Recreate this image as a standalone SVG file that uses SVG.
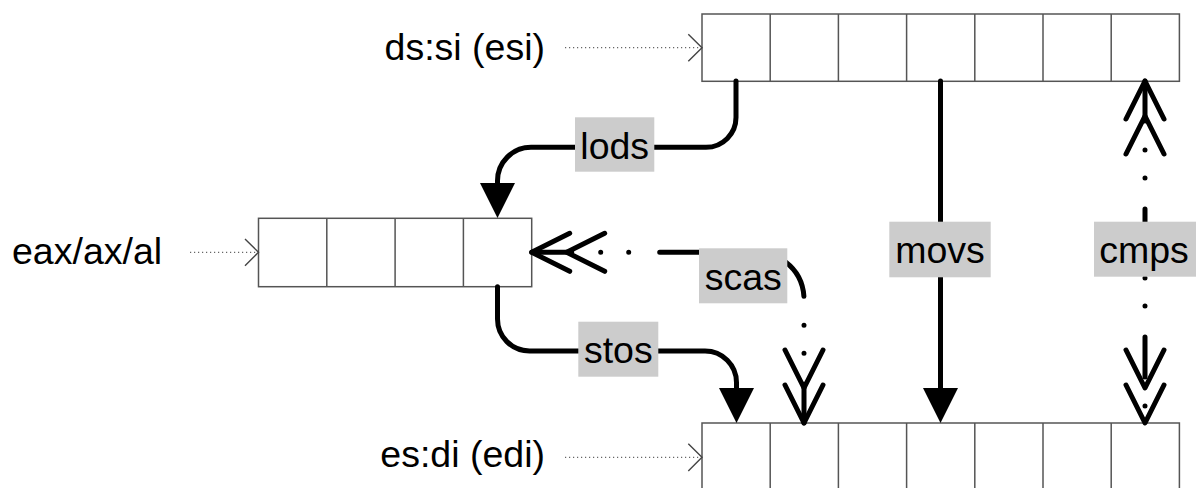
<svg xmlns="http://www.w3.org/2000/svg" width="1196" height="488" viewBox="0 0 1196 488">
  <style>
    .cell { fill: #ffffff; stroke: #555555; stroke-width: 1.5; }
    .div { fill: none; stroke: #555555; stroke-width: 1.5; }
    .reg { font-family: "Liberation Sans", Arial, sans-serif; font-size: 37.5px; fill: #000000; }
    .lbl { font-family: "Liberation Sans", Arial, sans-serif; font-size: 37.5px; fill: #000000; text-anchor: middle; }
    .tag { fill: #cccccc; }
    .ptr { fill: none; stroke: #666666; stroke-width: 1.2; stroke-dasharray: 1.2 2.8; }
    .ptrhead { fill: none; stroke: #444444; stroke-width: 1.4; stroke-linejoin: miter; }
    .flow { fill: none; stroke: #000000; stroke-width: 5; stroke-linecap: round; stroke-linejoin: round; }
    .cmp { fill: none; stroke: #000000; stroke-width: 5; stroke-linecap: round; stroke-linejoin: round; stroke-dasharray: 40 29 0 28 0 31; }
  </style>
  <defs>
    <!-- solid triangular head, placed at the end of the path (its base) -->
    <marker id="solid" markerUnits="userSpaceOnUse" orient="auto" refX="0" refY="0" markerWidth="40" markerHeight="40" viewBox="-2 -20 40 40" overflow="visible">
      <path d="M0,-17.5 L35,0 L0,17.5 Z" fill="#000000" stroke="none"/>
    </marker>
    <!-- double open chevron, tip at the path end -->
    <marker id="dbl" markerUnits="userSpaceOnUse" orient="auto-start-reverse" refX="0" refY="0" markerWidth="80" markerHeight="44" viewBox="-78 -22 80 44" overflow="visible">
      <path d="M-38,-19 L0,0 L-38,19 M-73,-19 L-35,0 L-73,19" fill="none" stroke="#000000" stroke-width="5" stroke-linecap="round" stroke-linejoin="round" stroke-dasharray="none"/>
    </marker>
  </defs>

  <!-- source string at ds:si -->
  <g id="src">
    <text class="reg" x="545" y="60" text-anchor="end">ds:si (esi)</text>
    <rect class="cell" x="702" y="14" width="477.4" height="67.3"/>
    <path class="div" d="M770.2,14 V81.3 M838.4,14 V81.3 M906.6,14 V81.3 M974.8,14 V81.3 M1043,14 V81.3 M1111.2,14 V81.3"/>
  </g>

  <!-- accumulator -->
  <g id="acc">
    <text class="reg" x="12" y="264" text-anchor="start">eax/ax/al</text>
    <rect class="cell" x="258.5" y="218.3" width="273.2" height="68.4"/>
    <path class="div" d="M326.8,218.3 V286.7 M395.1,218.3 V286.7 M463.4,218.3 V286.7"/>
  </g>

  <!-- destination string at es:di -->
  <g id="dst">
    <text class="reg" x="545" y="466.7" text-anchor="end">es:di (edi)</text>
    <rect class="cell" x="702" y="423" width="477.4" height="70"/>
    <path class="div" d="M770.2,423 V493 M838.4,423 V493 M906.6,423 V493 M974.8,423 V493 M1043,423 V493 M1111.2,423 V493"/>
  </g>

  <g id="connectors">
    <!-- register pointers -->
    <g id="ptr-src">
      <line class="ptr" x1="565" y1="47.7" x2="701" y2="47.7"/>
      <polyline class="ptrhead" points="688.3,34.3 702,47.7 688.3,61.3"/>
    </g>
    <g id="ptr-acc">
      <line class="ptr" x1="190" y1="252.3" x2="257.5" y2="252.3"/>
      <polyline class="ptrhead" points="245,239 258.5,252.3 245,265.7"/>
    </g>
    <g id="ptr-dst">
      <line class="ptr" x1="565" y1="457.3" x2="701" y2="457.3"/>
      <polyline class="ptrhead" points="688.3,443.7 702,457.3 688.3,471"/>
    </g>

    <!-- lods: source -> accumulator -->
    <g id="e-lods">
      <path class="flow" d="M736,81 V117 A30,30 0 0 1 706,147.3 H531 A33.5,33.5 0 0 0 497.5,180.8 V183" marker-end="url(#solid)"/>
      <rect class="tag" x="575" y="117.3" width="79.3" height="54.4"/>
      <text class="lbl" x="614.7" y="159.3">lods</text>
    </g>

    <!-- stos: accumulator -> destination -->
    <g id="e-stos">
      <path class="flow" d="M497.5,286.7 V319 A32,32 0 0 0 529.5,351 H705 A31.5,31.5 0 0 1 736.5,382.5 V388" marker-end="url(#solid)"/>
      <rect class="tag" x="578.3" y="321.7" width="80" height="55"/>
      <text class="lbl" x="618.3" y="363">stos</text>
    </g>

    <!-- movs: source -> destination -->
    <g id="e-movs">
      <path class="flow" d="M940.5,81 V388" marker-end="url(#solid)"/>
      <rect class="tag" x="889.3" y="221.7" width="101.4" height="55.6"/>
      <text class="lbl" x="940" y="262.7">movs</text>
    </g>

    <!-- scas: compare accumulator with destination -->
    <g id="e-scas">
      <path class="cmp" d="M531.7,252.3 H757 A47,47 0 0 1 804,299.3 V423" marker-start="url(#dbl)" marker-end="url(#dbl)"/>
      <rect class="tag" x="699" y="248.3" width="88.3" height="55"/>
      <text class="lbl" x="743.2" y="289.5">scas</text>
    </g>

    <!-- cmps: compare source with destination -->
    <g id="e-cmps">
      <path class="cmp" d="M1145,81 V423" marker-start="url(#dbl)" marker-end="url(#dbl)"/>
      <rect class="tag" x="1094" y="221.7" width="102" height="55"/>
      <text class="lbl" x="1144" y="262.7">cmps</text>
    </g>
  </g>
</svg>
